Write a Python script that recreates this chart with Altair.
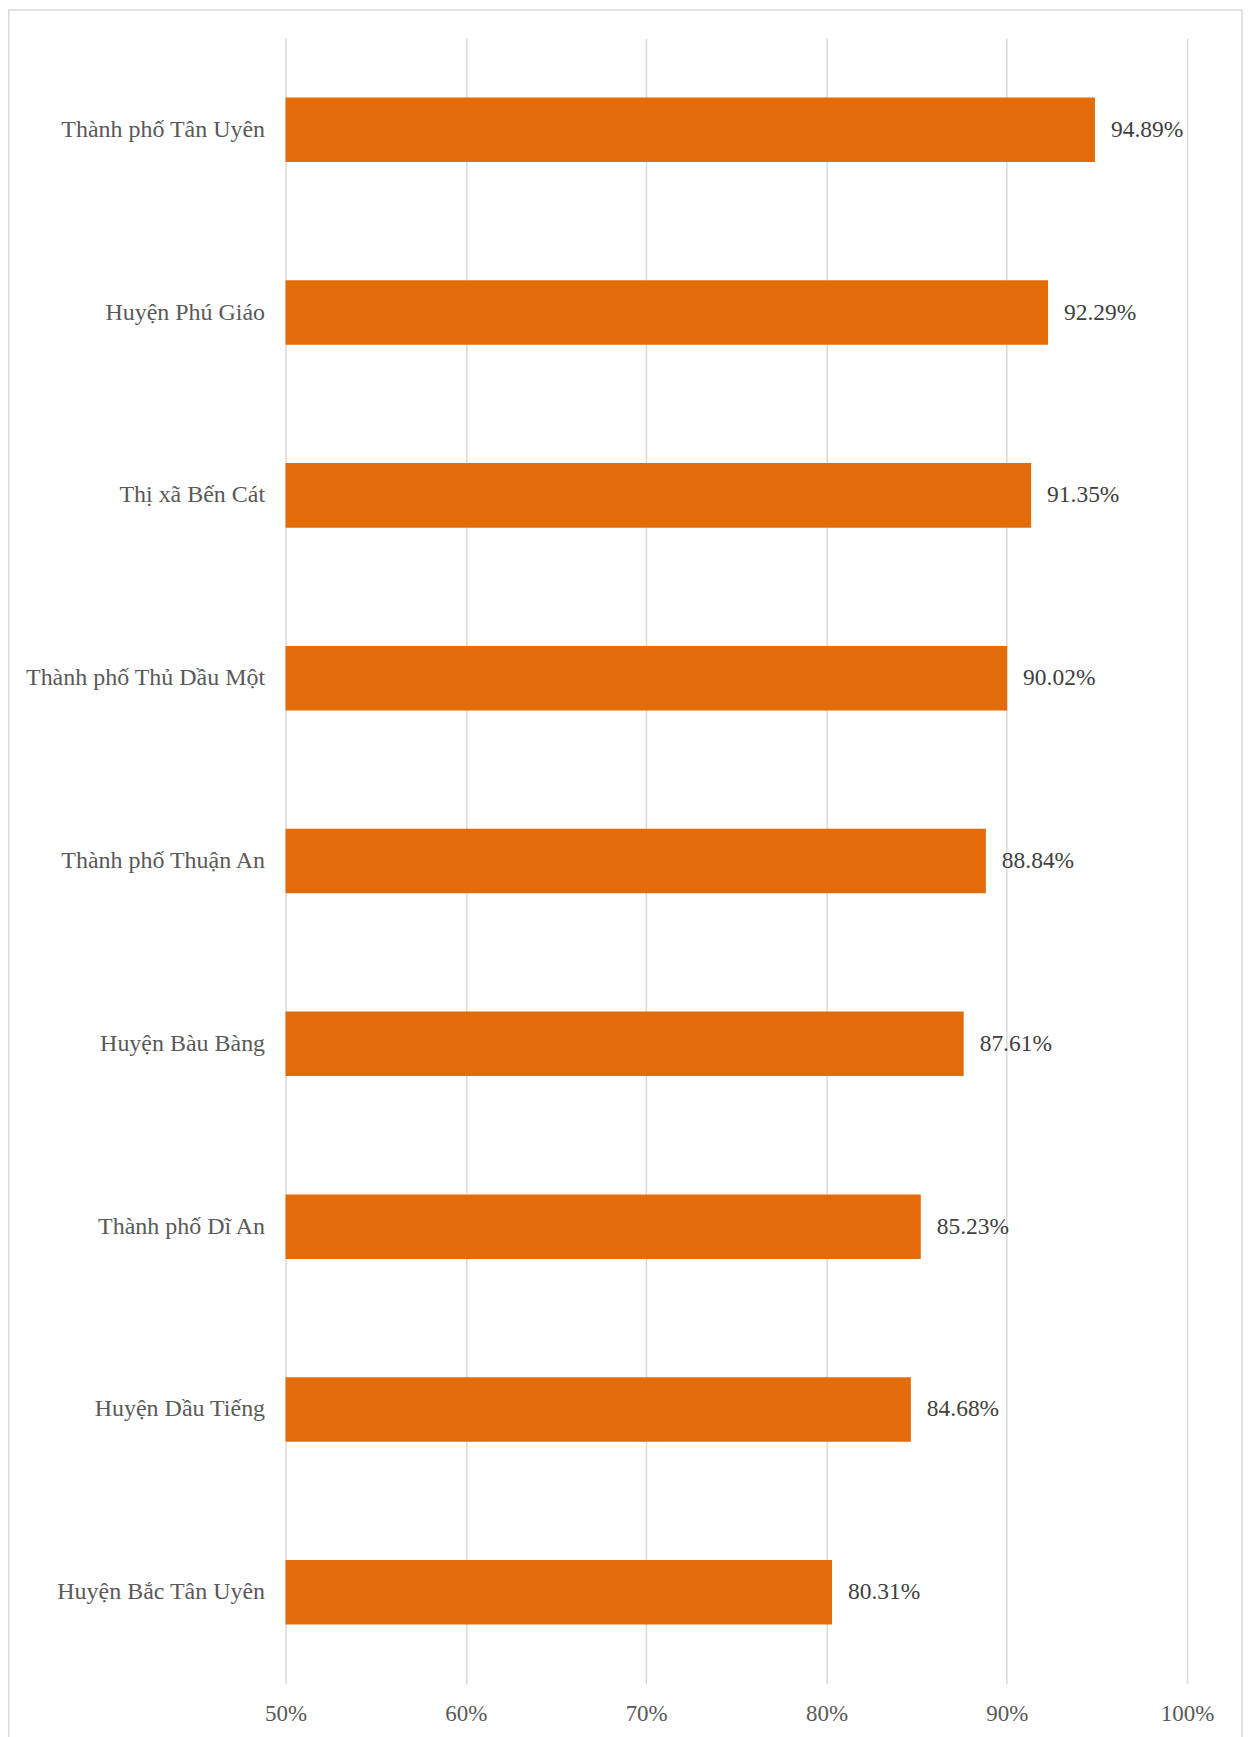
import altair as alt
import pandas as pd

districts = [
    "Thành phố Tân Uyên",
    "Huyện Phú Giáo",
    "Thị xã Bến Cát",
    "Thành phố Thủ Dầu Một",
    "Thành phố Thuận An",
    "Huyện Bàu Bàng",
    "Thành phố Dĩ An",
    "Huyện Dầu Tiếng",
    "Huyện Bắc Tân Uyên",
]
rates = [94.89, 92.29, 91.35, 90.02, 88.84, 87.61, 85.23, 84.68, 80.31]
x_ticks = [50, 60, 70, 80, 90, 100]

df = pd.DataFrame({"district": districts, "rate": rates})

W, H = 903, 1648
PAD_L, PAD_T, PAD_R, PAD_B = 278, 29, 56, 52
FONT = "'Liberation Serif', 'Times New Roman', Times, serif"

y_enc = alt.Y(
    "district:N",
    sort=districts,
    scale=alt.Scale(paddingInner=0.647, paddingOuter=0.3235),
    axis=alt.Axis(
        title=None, domain=False, ticks=False, labelPadding=21,
        labelFont=FONT, labelFontSize=24, labelColor="#595959", labelLimit=500,
    ),
)
x_enc = alt.X(
    "rate:Q",
    scale=alt.Scale(domain=[50, 100], zero=False, nice=False, clamp=True),
    axis=alt.Axis(
        values=x_ticks, title=None, domain=False, ticks=False, grid=True,
        gridColor="#D9D9D9", gridWidth=1.5, labelFlush=False,
        labelExpr="datum.value + '%'", labelPadding=30, labelBaseline="middle",
        labelFont=FONT, labelFontSize=23, labelColor="#595959",
    ),
)

base = alt.Chart(df)
bars = base.mark_bar(color="#E36C0A").encode(x=x_enc, y=y_enc)
labels = base.transform_calculate(
    label="format(datum.rate, '.2f') + '%'"
).mark_text(
    align="left", baseline="middle", dx=16, font=FONT, fontSize=23.5, color="#404040"
).encode(x="rate:Q", y=alt.Y("district:N", sort=districts), text="label:N")

border = alt.Chart(alt.Data(values=[{"a": 1}])).mark_rect(
    fillOpacity=0, stroke="#D9D9D9", strokeWidth=1.5
).encode(
    x=alt.value(-PAD_L + 0.75),
    x2=alt.value(W + PAD_R - 1.0),
    y=alt.value(-PAD_T + 0.5),
    y2=alt.value(H + PAD_B + 30),
)

chart = alt.layer(border, bars, labels).properties(
    width=W, height=H,
    padding={"left": PAD_L, "top": PAD_T, "right": PAD_R, "bottom": PAD_B},
    autosize=alt.AutoSizeParams(type="none"),
    background="white",
).configure_view(strokeWidth=0)

chart.save("out.html", embed_options={"renderer": "svg", "actions": False})
